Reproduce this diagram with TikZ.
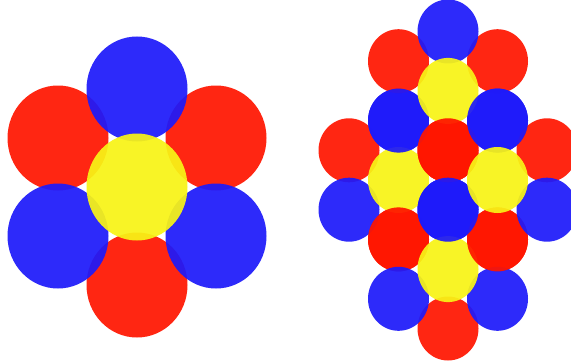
\documentclass[tikz,border=0pt]{standalone}
\definecolor{petalred}{RGB}{255,22,0}
\definecolor{petalblue}{RGB}{30,26,250}
\definecolor{petalyellow}{RGB}{248,244,22}
\newcommand\petalflower[6]{%
  % reds: upper right, bottom, upper left
  \fill[redc] (#1+#3,#2-#4) ellipse [x radius=#5, y radius=#6];
  \fill[redc] (#1,#2+2*#4) ellipse [x radius=#5, y radius=#6];
  \fill[redc] (#1-#3,#2-#4) ellipse [x radius=#5, y radius=#6];
  % blues: top, lower right, lower left
  \fill[bluec] (#1,#2-2*#4) ellipse [x radius=#5, y radius=#6];
  \fill[bluec] (#1+#3,#2+#4) ellipse [x radius=#5, y radius=#6];
  \fill[bluec] (#1-#3,#2+#4) ellipse [x radius=#5, y radius=#6];
  % centre
  \fill[yellowc] (#1,#2) ellipse [x radius=#5, y radius=#6+1];
}
\begin{document}
\begin{tikzpicture}[x=0.3mm,y=-0.3mm,
  redc/.style={fill=petalred, fill opacity=0.93},
  bluec/.style={fill=petalblue, fill opacity=0.93},
  yellowc/.style={fill=petalyellow, fill opacity=0.93}]
\fill[white] (0,0) rectangle (571,364);
\useasboundingbox (0,0) rectangle (571,364);
% left flower
\petalflower{137}{187}{79}{49}{50.5}{52.5}
% right cluster: left, top, bottom, right flowers
\petalflower{398.5}{180}{49.5}{29.7}{30.5}{32}
\petalflower{448}{90.9}{49.5}{29.7}{30.5}{32}
\petalflower{448}{269.1}{49.5}{29.7}{30.5}{32}
\petalflower{497.5}{180}{49.5}{29.7}{30.5}{32}
\end{tikzpicture}
\end{document}
